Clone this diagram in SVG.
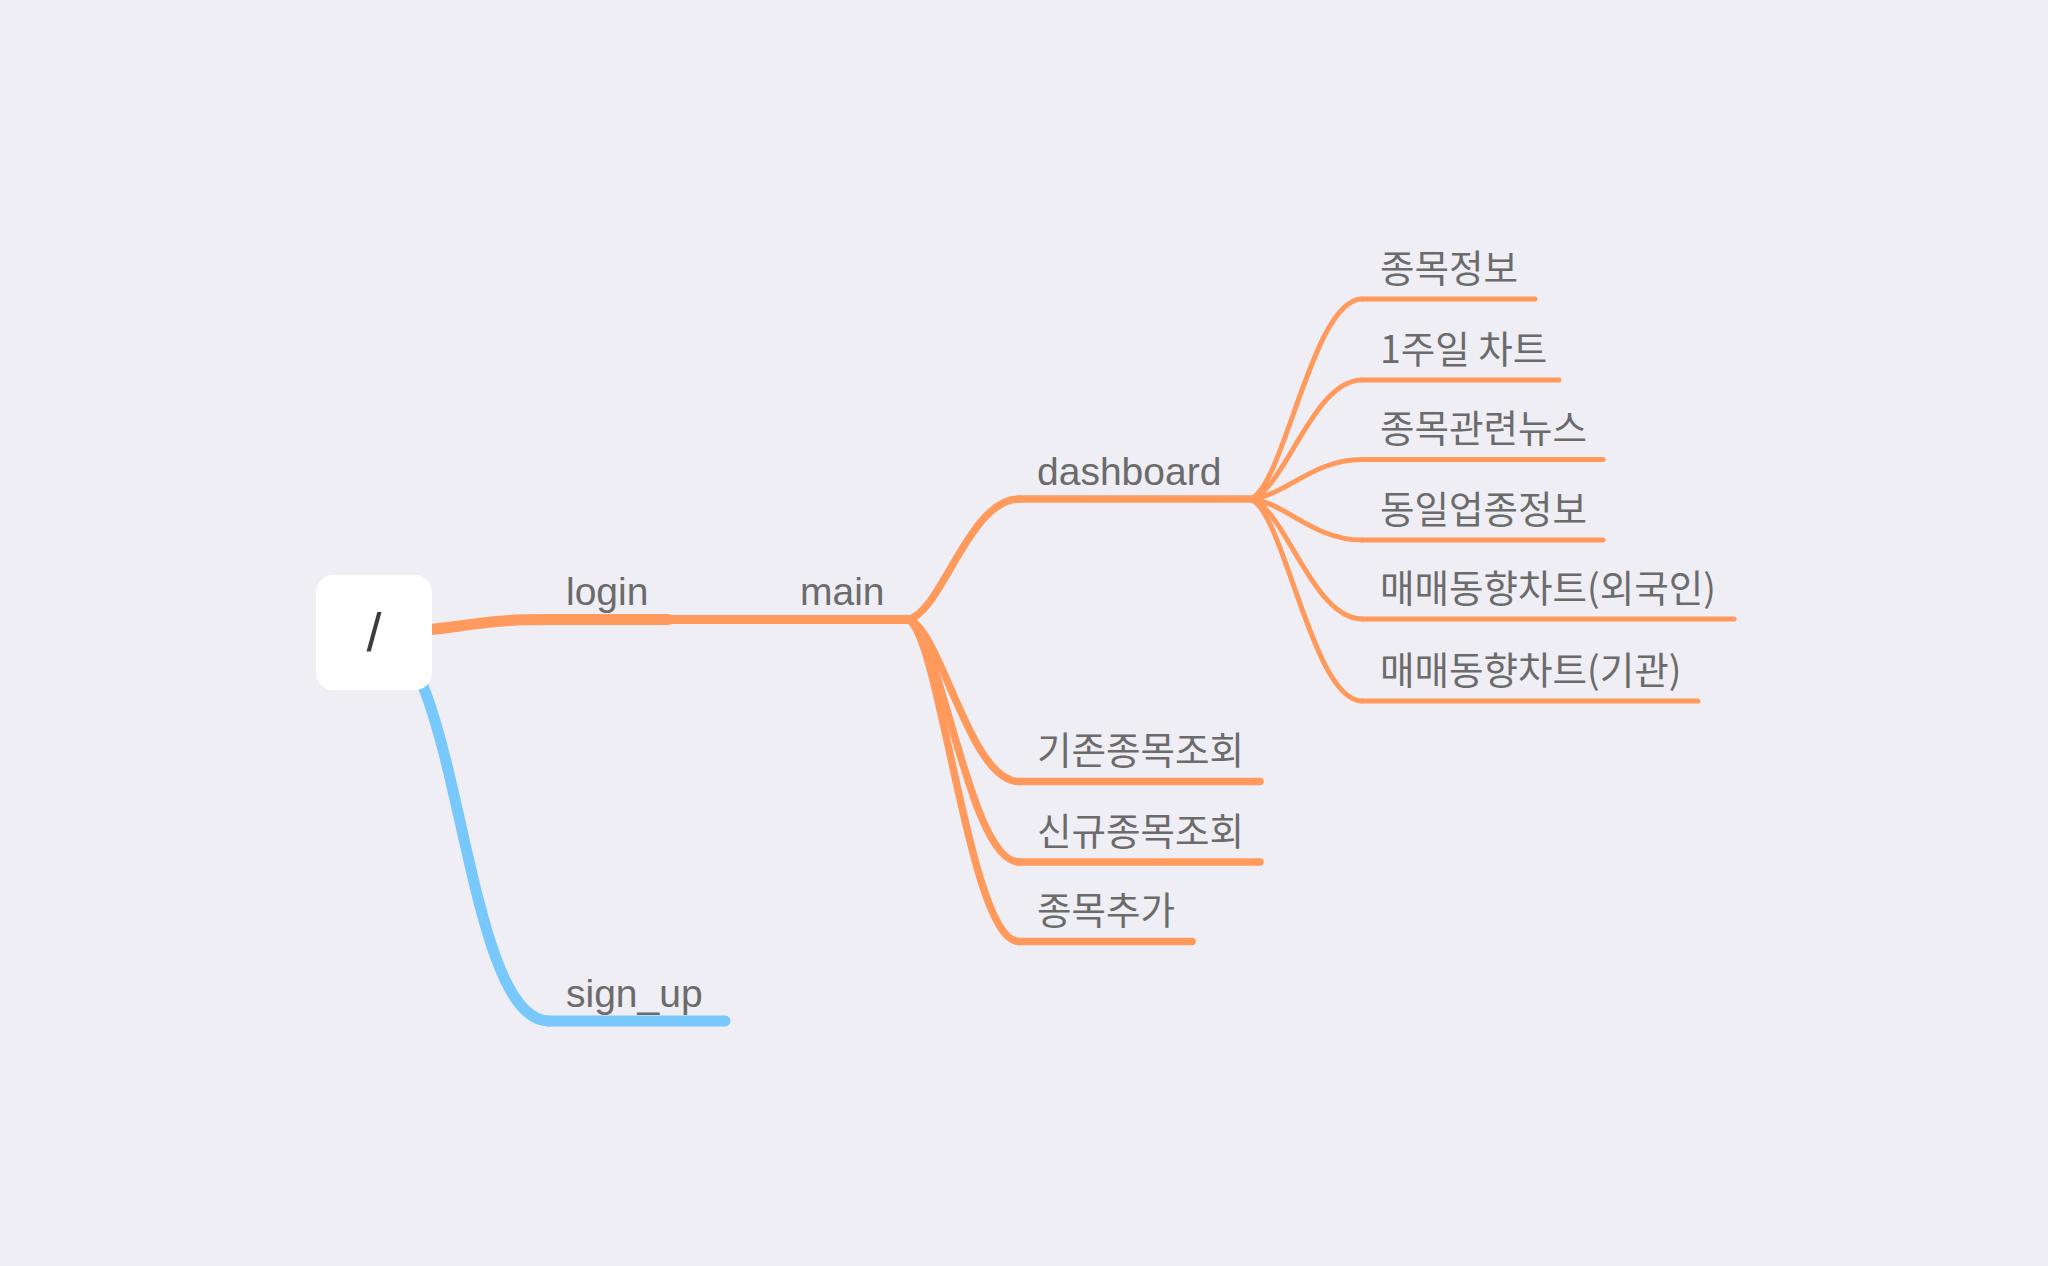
<svg xmlns="http://www.w3.org/2000/svg" width="2048" height="1266" viewBox="0 0 2048 1266">
<style>
.bg{fill:#efeef4}
.o{fill:none;stroke:#ff9a5c;stroke-linecap:round}
.b{fill:none;stroke:#78c8fc;stroke-linecap:round}
.d1{stroke-width:11}
.d2{stroke-width:9}
.d3{stroke-width:7.5}
.d4{stroke-width:5}
.lat{font-family:"Liberation Sans",Arial,sans-serif;font-size:39px;fill:#6b6b6b}
.kor{font-family:"Noto Sans CJK KR","Noto Sans",sans-serif;font-size:37.5px;fill:#6b6b6b}
.root{font-family:"Liberation Sans",Arial,sans-serif;font-size:54px;fill:#3d3d3d;text-anchor:middle}
</style>
<rect class="bg" x="0" y="0" width="2048" height="1266"/>
<g id="connectors">
<path class="o d1" d="M374 632 C461 632 461 619.5 548 619.5"/>
<path class="b d1" d="M374 632 C461 632 461 1021 549 1021"/>
<path class="o d2" d="M668 619.5 L782 619.5"/>
<path class="o d3" d="M908 619.5 C941 613.5 969 499 1019 499"/>
<path class="o d3" d="M908 619.5 C941 627.6 969 781.5 1019 781.5"/>
<path class="o d3" d="M908 619.5 C941 631.6 969 862 1019 862"/>
<path class="o d3" d="M908 619.5 C941 635.6 969 941.5 1019 941.5"/>
<path class="o d4" d="M1250 499 C1284 489 1312 299 1362 299"/>
<path class="o d4" d="M1250 499 C1284 493 1312 380 1362 380"/>
<path class="o d4" d="M1250 499 C1284 497 1312 459.5 1362 459.5"/>
<path class="o d4" d="M1250 499 C1284 501 1312 540 1362 540"/>
<path class="o d4" d="M1250 499 C1284 505 1312 619 1362 619"/>
<path class="o d4" d="M1250 499 C1284 509 1312 701 1362 701"/>
</g>
<g id="node-root">
<rect x="316" y="575" width="116" height="115" rx="17" fill="#ffffff"/>
<text class="root" x="374" y="651">/</text>
</g>
<g id="node-login">
<line class="o d1" x1="548" y1="619.5" x2="668" y2="619.5"/>
<text class="lat" x="566" y="605">login</text>
</g>
<g id="node-sign_up">
<line class="b d1" x1="549" y1="1021" x2="725" y2="1021"/>
<text class="lat" x="566" y="1007">sign_up</text>
</g>
<g id="node-main">
<line class="o d2" x1="782" y1="619.5" x2="908" y2="619.5"/>
<text class="lat" x="800" y="605">main</text>
</g>
<g id="node-dashboard">
<line class="o d3" x1="1019" y1="499" x2="1252" y2="499"/>
<text class="lat" x="1037" y="485">dashboard</text>
</g>
<g id="node-existing">
<line class="o d3" x1="1019" y1="781.5" x2="1260" y2="781.5"/>
<text class="kor" x="1037" y="764">기존종목조회</text>
</g>
<g id="node-new">
<line class="o d3" x1="1019" y1="862" x2="1260" y2="862"/>
<text class="kor" x="1037" y="845">신규종목조회</text>
</g>
<g id="node-add">
<line class="o d3" x1="1019" y1="941.5" x2="1192" y2="941.5"/>
<text class="kor" x="1037" y="924">종목추가</text>
</g>
<g id="node-info">
<line class="o d4" x1="1362" y1="299" x2="1535" y2="299"/>
<text class="kor" x="1380" y="282">종목정보</text>
</g>
<g id="node-week">
<line class="o d4" x1="1362" y1="380" x2="1559" y2="380"/>
<text class="kor" x="1380" y="363">1주일 차트</text>
</g>
<g id="node-news">
<line class="o d4" x1="1362" y1="459.5" x2="1603" y2="459.5"/>
<text class="kor" x="1380" y="442">종목관련뉴스</text>
</g>
<g id="node-sector">
<line class="o d4" x1="1362" y1="540" x2="1603" y2="540"/>
<text class="kor" x="1380" y="523">동일업종정보</text>
</g>
<g id="node-foreign">
<line class="o d4" x1="1362" y1="619" x2="1734" y2="619"/>
<text class="kor" x="1380" y="602">매매동향차트(외국인)</text>
</g>
<g id="node-inst">
<line class="o d4" x1="1362" y1="701" x2="1698" y2="701"/>
<text class="kor" x="1380" y="684">매매동향차트(기관)</text>
</g>
</svg>
